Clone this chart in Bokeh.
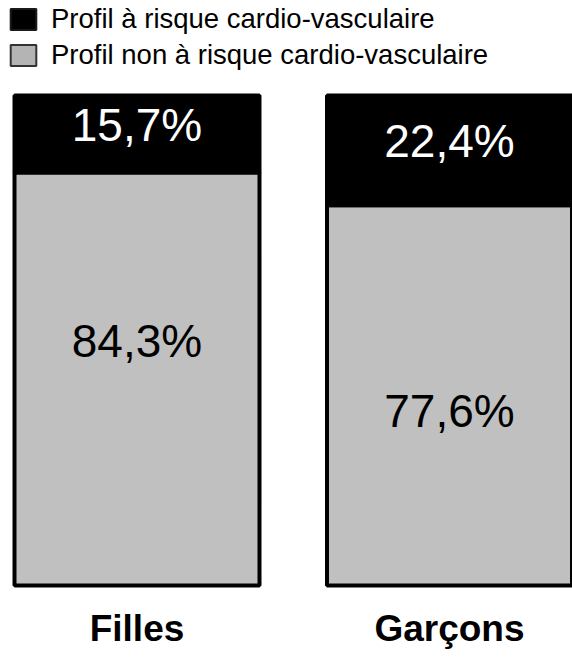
from bokeh.plotting import figure
from bokeh.models import Range1d, Legend, LegendItem, FixedTicker, ColumnDataSource
from bokeh.embed import file_html
from bokeh.resources import INLINE
from bokeh.core.properties import value

# ---- data ----
categories = ["Filles", "Garçons"]
risk = [15.7, 22.4]
no_risk = [84.3, 77.6]
series_labels = ["Profil à risque cardio-vasculaire",
                 "Profil non à risque cardio-vasculaire"]

# ---- layout / style (not data) ----
lower_label_y = [50.0, 35.7]   # vertical placement of the lower labels
BLACK = "#000000"
GRAY = "#c0c0c0"
FONT = "Liberation Sans"

def fmt(v):
    return f"{v:.1f}%".replace(".", ",")

idx = list(range(len(categories)))
src = ColumnDataSource(dict(
    x=idx,
    norisk=no_risk,
    risk=risk,
    top_mid=[n + r / 2 for n, r in zip(no_risk, risk)],
    low_y=lower_label_y,
    risk_lbl=[fmt(v) for v in risk],
    norisk_lbl=[fmt(v) for v in no_risk],
))

p = figure(width=572, height=664, output_backend="svg", toolbar_location=None,
           x_range=Range1d(-0.4368, 1.3936), y_range=Range1d(-3.06, 119.39),
           y_axis_location=None, min_border_left=0, min_border_right=0,
           min_border_top=0, min_border_bottom=64)
p.outline_line_color = None
p.xgrid.visible = False
p.ygrid.visible = False

# legend proxies (zero-height, hidden beneath the bars' outline)
proxy_black = p.vbar(x=[idx[0]], top=[0], bottom=[0], width=0.3,
                     fill_color=BLACK, line_color="#1a1a1a", line_width=2)
proxy_gray = p.vbar(x=[idx[0]], top=[0], bottom=[0], width=0.3,
                    fill_color="#b4b4b4", line_color="#333333", line_width=2)

bars = p.vbar_stack(["norisk", "risk"], x="x", width=0.784, source=src,
                    fill_color=[GRAY, BLACK], line_color=BLACK, line_width=4)

# percentage labels
p.text(x="x", y="top_mid", text="risk_lbl", source=src, text_color="white",
       text_font=value(FONT), text_font_size="46px", text_align="center",
       text_baseline="middle", y_offset=-9)
p.text(x="x", y="low_y", text="norisk_lbl", source=src, text_color=BLACK,
       text_font=value(FONT), text_font_size="46px", text_align="center",
       text_baseline="middle")

legend = Legend(items=[LegendItem(label=series_labels[0], renderers=[proxy_black]),
                       LegendItem(label=series_labels[1], renderers=[proxy_gray])],
                location=(7, 529), glyph_width=32, glyph_height=26,
                label_text_font=FONT, label_text_font_size="27.5px",
                label_text_color=BLACK, label_height=22,
                label_standoff=12, spacing=4, padding=0, margin=0,
                border_line_alpha=0, background_fill_alpha=0)
p.add_layout(legend)

# category axis
xa = p.xaxis[0]
xa.ticker = FixedTicker(ticks=idx)
xa.major_label_overrides = {i: c for i, c in zip(idx, categories)}
xa.axis_line_color = None
xa.major_tick_line_color = None
xa.minor_tick_line_color = None
xa.major_tick_out = 0
xa.major_tick_in = 0
xa.major_label_text_font = FONT
xa.major_label_text_font_style = "bold"
xa.major_label_text_font_size = "37px"
xa.major_label_text_color = BLACK
xa.major_label_standoff = 7

open("out.html", "w").write(file_html(p, INLINE))
